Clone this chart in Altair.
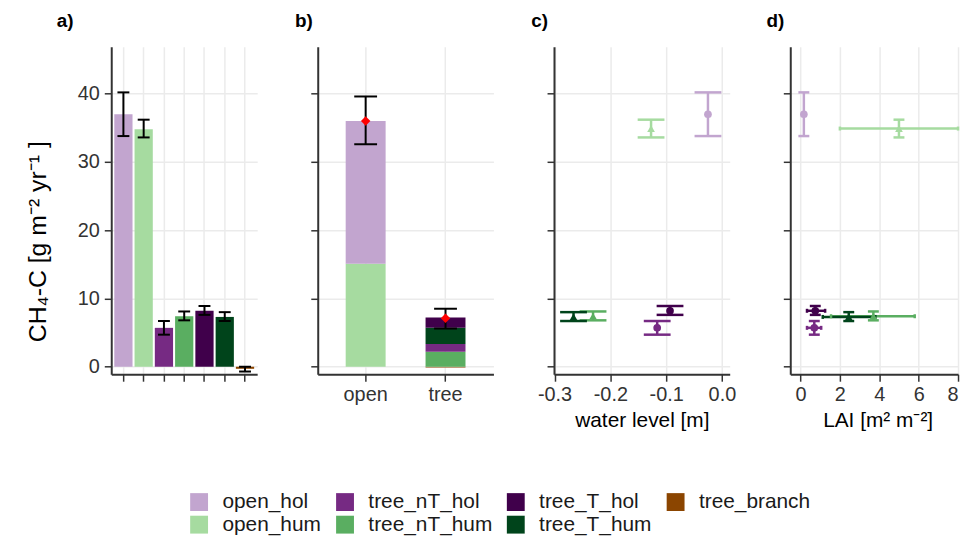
import altair as alt
import pandas as pd

# ---------------- data ----------------
groups = ["open_hol", "open_hum", "tree_nT_hol", "tree_nT_hum", "tree_T_hol", "tree_T_hum", "tree_branch"]
group_colors = ["#c2a5cf", "#a6dba0", "#762a83", "#5aae61", "#40004b", "#00441b", "#8b4500"]

# panel a: mean flux per microsite with error range
flux_mean = [37.0, 34.8, 5.7, 7.4, 8.2, 7.3, -0.3]
flux_lo = [33.8, 33.6, 4.7, 6.8, 7.6, 6.7, -0.7]
flux_hi = [40.2, 36.2, 6.7, 8.1, 8.9, 8.0, 0.0]

# panel b: upscaled contributions (stacked)
part_site = ["open", "open", "tree", "tree", "tree", "tree", "tree"]
part_group = ["open_hum", "open_hol", "tree_branch", "tree_nT_hum", "tree_nT_hol", "tree_T_hum", "tree_T_hol"]
part_value = [15.1, 20.9, -0.1, 2.2, 1.15, 2.35, 1.5]
part_order = [1, 2, 0, 1, 2, 3, 4]
sites = ["open", "tree"]
site_mean = [36.0, 7.1]
site_lo = [32.6, 5.6]
site_hi = [39.6, 8.5]

# panels c and d
pt_group = ["open_hol", "open_hum", "tree_nT_hol", "tree_nT_hum", "tree_T_hol", "tree_T_hum"]
pt_type = ["hol", "hum", "hol", "hum", "hol", "hum"]
pt_mean = [37.0, 34.9, 5.7, 7.4, 8.2, 7.3]
pt_lo = [33.8, 33.6, 4.7, 6.8, 7.6, 6.7]
pt_hi = [40.2, 36.2, 6.7, 8.1, 8.9, 8.0]
water_level = [-0.025, -0.127, -0.116, -0.231, -0.093, -0.266]
lai = [0.17, 5.0, 0.7, 3.7, 0.75, 2.45]
lai_lo = [0.17, 2.0, 0.33, 1.55, 0.33, 1.13]
lai_hi = [0.17, 8.0, 1.05, 5.8, 1.25, 3.8]
hbar_draw_order = [0, 1, 2, 4, 3, 5]  # T_hum drawn before nT_hum

# ---------------- tables ----------------
df_a = pd.DataFrame({"group": groups, "mean": flux_mean, "lo": flux_lo, "hi": flux_hi})
df_b = pd.DataFrame({"site": part_site, "group": part_group, "value": part_value, "ord": part_order})
df_b_err = pd.DataFrame({"site": sites, "mean": site_mean, "lo": site_lo, "hi": site_hi})
df_pt = pd.DataFrame({"group": pt_group, "type": pt_type, "mean": pt_mean, "lo": pt_lo, "hi": pt_hi,
                      "wl": water_level, "lai": lai, "lai_lo": lai_lo, "lai_hi": lai_hi,
                      "draw": hbar_draw_order})
df_h = df_pt.sort_values("draw")

cscale = alt.Scale(domain=groups, range=group_colors)

ysc = alt.Scale(domain=[-1.1, 46.9], nice=False, zero=False)
yvals = [0, 10, 20, 30, 40]
y_hidden = alt.Axis(values=yvals, labels=False, title=None, grid=True)

H = 330
HCAP = "M-1,0L1,0"
VCAP = "M0,-1L0,1"

legend = alt.Legend(orient="none", legendX=78, legendY=448, columns=4, title=None,
                    symbolType="square", symbolSize=324, symbolStrokeWidth=0,
                    labelFontSize=21, labelOffset=13, columnPadding=13, rowPadding=1,
                    padding=0, labelColor="#1a1a1a")

def ptitle(t, dx):
    return alt.TitleParams(t, anchor="start", frame="group", dx=dx, fontSize=19, fontWeight="bold",
                           offset=16, color="#000000")

# ---------------- panel a ----------------
xa = alt.X("group:N", sort=groups, scale=alt.Scale(paddingInner=0.1, paddingOuter=0.15),
           axis=alt.Axis(labels=False, title=None, grid=True, bandPosition=0.5, ticks=True))
ya_axis = alt.Axis(values=yvals, title="CH₄-C [g m⁻² yr⁻¹ ]", grid=True, labelPadding=5,
                   titleFontSize=25, titleX=-66, titleY=196, titleAngle=270,
                   titleBaseline="alphabetic", titleAlign="center")
bars_a = alt.Chart(df_a).mark_bar().encode(
    x=xa, y=alt.Y("mean:Q", scale=ysc, axis=ya_axis),
    color=alt.Color("group:N", scale=cscale, legend=legend))
err_a = alt.Chart(df_a).mark_rule(color="black", strokeWidth=2).encode(
    x=alt.X("group:N", sort=groups), y=alt.Y("lo:Q", scale=ysc), y2="hi:Q")
caplo_a = alt.Chart(df_a).mark_point(shape=HCAP, size=144, color="black", strokeWidth=2, filled=False, opacity=1).encode(
    x=alt.X("group:N", sort=groups), y=alt.Y("lo:Q", scale=ysc))
caphi_a = alt.Chart(df_a).mark_point(shape=HCAP, size=144, color="black", strokeWidth=2, filled=False, opacity=1).encode(
    x=alt.X("group:N", sort=groups), y=alt.Y("hi:Q", scale=ysc))
panel_a = alt.layer(bars_a, err_a, caplo_a, caphi_a).properties(width=147, height=H, title=ptitle("a)", -55))

# ---------------- panel b ----------------
xb = alt.X("site:N", sort=sites, scale=alt.Scale(paddingInner=0.5, paddingOuter=0.35),
           axis=alt.Axis(title=None, grid=True, bandPosition=0.5, labelAngle=0))
bars_b = alt.Chart(df_b).mark_bar().encode(
    x=xb, y=alt.Y("value:Q", stack="zero", scale=ysc, axis=y_hidden),
    color=alt.Color("group:N", scale=cscale, legend=None),
    order=alt.Order("ord:Q"))
err_b = alt.Chart(df_b_err).mark_rule(color="black", strokeWidth=2).encode(
    x=alt.X("site:N", sort=sites), y=alt.Y("lo:Q", scale=ysc), y2="hi:Q")
caplo_b = alt.Chart(df_b_err).mark_point(shape=HCAP, size=529, color="black", strokeWidth=2, filled=False, opacity=1).encode(
    x=alt.X("site:N", sort=sites), y=alt.Y("lo:Q", scale=ysc))
caphi_b = alt.Chart(df_b_err).mark_point(shape=HCAP, size=529, color="black", strokeWidth=2, filled=False, opacity=1).encode(
    x=alt.X("site:N", sort=sites), y=alt.Y("hi:Q", scale=ysc))
mean_b = alt.Chart(df_b_err).mark_point(shape="diamond", size=90, color="red", filled=True, opacity=1).encode(
    x=alt.X("site:N", sort=sites), y=alt.Y("mean:Q", scale=ysc))
panel_b = alt.layer(bars_b, err_b, caplo_b, caphi_b, mean_b).properties(width=177, height=H, title=ptitle("b)", -23))

# ---------------- panel c ----------------
xc_scale = alt.Scale(domain=[-0.301, 0.014], nice=False, zero=False)
xc_axis = alt.Axis(values=[-0.3, -0.2, -0.1, 0.0], title="water level [m]", labelFlush=False,
                   labelExpr="datum.value < 0 ? '-' + format(-datum.value, '.1f') : format(datum.value, '.1f')")
shape_enc = alt.Shape("type:N", scale=alt.Scale(domain=["hol", "hum"], range=["circle", "triangle-up"]), legend=None)
col_nl = alt.Color("group:N", scale=cscale, legend=None)
err_c = alt.Chart(df_pt).mark_rule(strokeWidth=2.5).encode(
    x=alt.X("wl:Q", scale=xc_scale, axis=xc_axis), y=alt.Y("lo:Q", scale=ysc, axis=y_hidden), y2="hi:Q", color=col_nl)
caplo_c = alt.Chart(df_pt).mark_point(shape=HCAP, size=729, strokeWidth=2.5, filled=False, opacity=1).encode(
    x=alt.X("wl:Q", scale=xc_scale), y=alt.Y("lo:Q", scale=ysc), color=col_nl)
caphi_c = alt.Chart(df_pt).mark_point(shape=HCAP, size=729, strokeWidth=2.5, filled=False, opacity=1).encode(
    x=alt.X("wl:Q", scale=xc_scale), y=alt.Y("hi:Q", scale=ysc), color=col_nl)
pts_c = alt.Chart(df_pt).mark_point(size=60, filled=True, opacity=1).encode(
    x=alt.X("wl:Q", scale=xc_scale), y=alt.Y("mean:Q", scale=ysc), color=col_nl, shape=shape_enc)
panel_c = alt.layer(err_c, caplo_c, caphi_c, pts_c).properties(width=177, height=H, title=ptitle("c)", -23))

# ---------------- panel d ----------------
xd_scale = alt.Scale(domain=[-0.52, 8.0], nice=False, zero=False)
xd_axis = alt.Axis(values=[0, 2, 4, 6, 8], title="LAI [m² m⁻²]", titleX=88)
hbar_d = alt.Chart(df_h).mark_rule(strokeWidth=2.5).encode(
    x=alt.X("lai_lo:Q", scale=xd_scale, axis=xd_axis), x2="lai_hi:Q",
    y=alt.Y("mean:Q", scale=ysc, axis=y_hidden), color=col_nl)
hcaplo_d = alt.Chart(df_h).mark_point(shape=VCAP, size=16, strokeWidth=2.5, filled=False, opacity=1).encode(
    x=alt.X("lai_lo:Q", scale=xd_scale), y=alt.Y("mean:Q", scale=ysc), color=col_nl)
hcaphi_d = alt.Chart(df_h).mark_point(shape=VCAP, size=16, strokeWidth=2.5, filled=False, opacity=1).encode(
    x=alt.X("lai_hi:Q", scale=xd_scale), y=alt.Y("mean:Q", scale=ysc), color=col_nl)
err_d = alt.Chart(df_pt).mark_rule(strokeWidth=2.5).encode(
    x=alt.X("lai:Q", scale=xd_scale), y=alt.Y("lo:Q", scale=ysc), y2="hi:Q", color=col_nl)
caplo_d = alt.Chart(df_pt).mark_point(shape=HCAP, size=121, strokeWidth=2.5, filled=False, opacity=1).encode(
    x=alt.X("lai:Q", scale=xd_scale), y=alt.Y("lo:Q", scale=ysc), color=col_nl)
caphi_d = alt.Chart(df_pt).mark_point(shape=HCAP, size=121, strokeWidth=2.5, filled=False, opacity=1).encode(
    x=alt.X("lai:Q", scale=xd_scale), y=alt.Y("hi:Q", scale=ysc), color=col_nl)
pts_d = alt.Chart(df_pt).mark_point(size=60, filled=True, opacity=1).encode(
    x=alt.X("lai:Q", scale=xd_scale), y=alt.Y("mean:Q", scale=ysc), color=col_nl, shape=shape_enc)
panel_d = alt.layer(hbar_d, hcaplo_d, hcaphi_d, err_d, caplo_d, caphi_d, pts_d).properties(
    width=169, height=H, title=ptitle("d)", -24))

chart = alt.hconcat(panel_a, panel_b, panel_c, panel_d, spacing=61, bounds="flush").properties(
    padding={"left": 18, "top": 2, "right": 0, "bottom": 0}
).resolve_scale(color="shared").configure(
    font="Liberation Sans", background="white"
).configure_view(stroke=None).configure_axis(
    domainColor="#333333", domainWidth=2, tickColor="#333333", tickWidth=1.5, tickSize=7,
    labelColor="#333333", labelFontSize=20, labelPadding=3,
    titleColor="#000000", titleFontSize=21, titleFontWeight="normal", titlePadding=6,
    gridColor="#ebebeb", gridWidth=1.5
)

chart.save("out.html", embed_options={"renderer": "svg", "actions": False})
